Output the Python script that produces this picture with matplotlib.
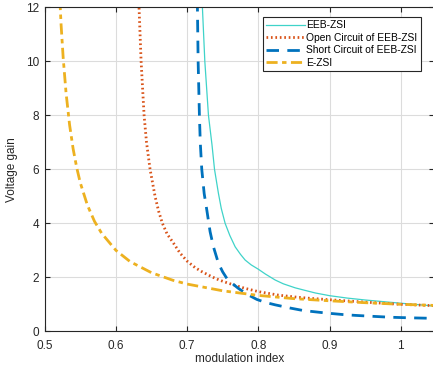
import matplotlib
matplotlib.use("Agg")
import matplotlib.pyplot as plt

plt.rcParams['font.family'] = ['Liberation Sans', 'DejaVu Sans']

# ---- data ----
eeb_x = [0.7208, 0.7215, 0.7249, 0.7300, 0.7350, 0.7385, 0.7440, 0.7480, 0.7534, 0.7600,
         0.7675, 0.7750, 0.7815, 0.7900, 0.8000, 0.8100, 0.8237, 0.8350, 0.8518, 0.8650,
         0.8800, 0.9000, 0.9250, 0.9500, 0.9750, 1.0000, 1.0460]
eeb_y = [12.8, 12.0, 10.0, 8.0, 6.9, 6.0, 5.11, 4.55, 4.0, 3.55,
         3.13, 2.85, 2.64, 2.46, 2.30, 2.12, 1.90, 1.76, 1.61, 1.52,
         1.42, 1.32, 1.23, 1.16, 1.10, 1.04, 0.94]

open_x = [0.6310, 0.6325, 0.6354, 0.6396, 0.6430, 0.6480, 0.6550, 0.6600, 0.6653, 0.6720,
          0.6800, 0.6900, 0.7000, 0.7112, 0.7200, 0.7347, 0.7450, 0.7580, 0.7700, 0.7815,
          0.8000, 0.8283, 0.8518, 0.8730, 0.9000, 0.9500, 1.0000, 1.0460]
open_y = [13.0, 12.0, 10.0, 8.0, 7.0, 6.0, 5.0, 4.45, 4.0, 3.6,
          3.3, 2.9, 2.6, 2.36, 2.22, 2.02, 1.90, 1.78, 1.68, 1.59,
          1.47, 1.34, 1.27, 1.22, 1.17, 1.08, 1.00, 0.95]

short_x = [0.7140, 0.7145, 0.7155, 0.7173, 0.7185, 0.7206, 0.7240, 0.7277, 0.7323, 0.7370,
           0.7440, 0.7500, 0.7558, 0.7630, 0.7720, 0.7850, 0.7980, 0.8100, 0.8237, 0.8450,
           0.8630, 0.8940, 0.9190, 0.9360, 0.9640, 0.9860, 1.0120, 1.0460]
short_y = [12.8, 12.0, 10.0, 8.0, 7.0, 6.0, 5.1, 4.49, 3.69, 3.13,
           2.52, 2.2, 1.96, 1.78, 1.59, 1.36, 1.18, 1.07, 0.98, 0.86,
           0.77, 0.68, 0.62, 0.59, 0.55, 0.52, 0.50, 0.48]

ezsi_x = [0.520, 0.523, 0.526, 0.530, 0.535, 0.540, 0.545, 0.550, 0.560, 0.570,
          0.580, 0.600, 0.620, 0.650, 0.680, 0.700, 0.750, 0.800, 0.850, 0.900,
          0.950, 1.000, 1.046]
ezsi_y = [13.0, 11.37, 10.12, 8.83, 7.64, 6.75, 6.06, 5.50, 4.67, 4.07,
          3.63, 3.00, 2.58, 2.17, 1.89, 1.75, 1.50, 1.33, 1.21, 1.13,
          1.06, 1.00, 0.96]

labels = ['EEB-ZSI', 'Open Circuit of EEB-ZSI', 'Short Circuit of EEB-ZSI', 'E-ZSI']
xticks = [0.5, 0.6, 0.7, 0.8, 0.9, 1.0]
xticklabels = ['0.5', '0.6', '0.7', '0.8', '0.9', '1']
yticks = [0, 2, 4, 6, 8, 10, 12]

# ---- figure ----
fig = plt.figure(figsize=(4.33, 3.71), dpi=100)
ax = fig.add_axes([0.1032, 0.107, 0.8982, 0.8733])

ax.plot(eeb_x, eeb_y, color='#3FD3C9', lw=0.9, ls='-', label=labels[0])
ax.plot(open_x, open_y, color='#D95319', lw=2.0, ls=(0, (0.6, 1.0)), label=labels[1])
ax.plot(short_x, short_y, color='#0072BD', lw=2.0, ls=(0, (4.5, 3.0)), label=labels[2])
ax.plot(ezsi_x, ezsi_y, color='#EDB120', lw=2.0, ls=(0, (4.0, 1.6, 1.6, 1.6)), label=labels[3])

ax.set_xlim(0.5, 1.0462)
ax.set_ylim(0, 12)
ax.set_xticks(xticks)
ax.set_xticklabels(xticklabels)
ax.set_yticks(yticks)

ax.grid(True, color='#DCDCDC', lw=0.8)
ax.set_axisbelow(True)
for s in ax.spines.values():
    s.set_color('#262626')
    s.set_linewidth(0.8)
ax.tick_params(direction='in', length=3.5, width=0.8, top=True, right=True,
               colors='#262626', labelsize=8.5)
ax.tick_params(axis='x', pad=6)
ax.tick_params(axis='y', pad=4)

ax.set_xlabel('modulation index', fontsize=8.5, color='#262626', labelpad=1)
ax.set_ylabel('Voltage gain', fontsize=8.5, color='#262626', labelpad=6)

leg = ax.legend(loc='upper right', bbox_to_anchor=(0.9665, 0.970), borderaxespad=0,
                fontsize=7.4, frameon=True, fancybox=False, framealpha=1,
                handlelength=3.8, handletextpad=0.1, labelspacing=0.25, borderpad=0.3)
leg.get_frame().set_edgecolor('#262626')
leg.get_frame().set_linewidth(0.8)

fig.savefig('out.png', dpi=100)
